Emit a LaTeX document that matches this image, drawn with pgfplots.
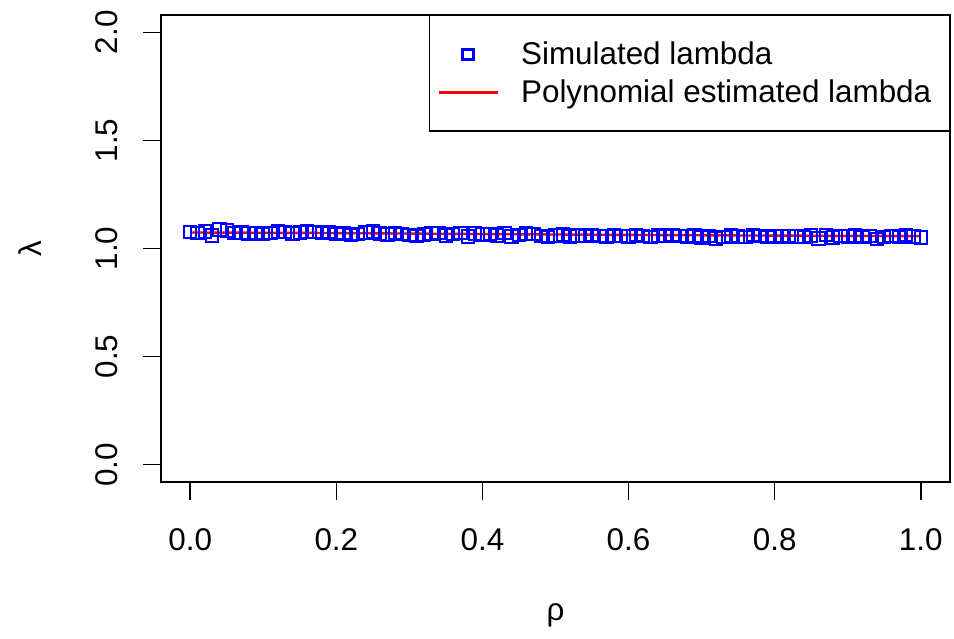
\documentclass[border=0pt]{standalone}
\usepackage{fontspec}
\setmainfont{Liberation Sans}
\usepackage{pgfplots}
\pgfplotsset{compat=1.18}

\pgfplotstableread{
rho lambda
0.00 1.075
0.01 1.072
0.02 1.078
0.03 1.060
0.04 1.088
0.05 1.083
0.06 1.071
0.07 1.074
0.08 1.070
0.09 1.072
0.10 1.068
0.11 1.073
0.12 1.078
0.13 1.075
0.14 1.069
0.15 1.074
0.16 1.079
0.17 1.076
0.18 1.073
0.19 1.077
0.20 1.068
0.21 1.071
0.22 1.062
0.23 1.066
0.24 1.074
0.25 1.079
0.26 1.070
0.27 1.064
0.28 1.072
0.29 1.067
0.30 1.063
0.31 1.058
0.32 1.065
0.33 1.069
0.34 1.072
0.35 1.060
0.36 1.067
0.37 1.073
0.38 1.055
0.39 1.070
0.40 1.064
0.41 1.068
0.42 1.061
0.43 1.072
0.44 1.056
0.45 1.063
0.46 1.070
0.47 1.066
0.48 1.059
0.49 1.053
0.50 1.061
0.51 1.064
0.52 1.055
0.53 1.060
0.54 1.057
0.55 1.062
0.56 1.058
0.57 1.055
0.58 1.061
0.59 1.059
0.60 1.056
0.61 1.062
0.62 1.058
0.63 1.054
0.64 1.060
0.65 1.057
0.66 1.062
0.67 1.058
0.68 1.055
0.69 1.061
0.70 1.050
0.71 1.057
0.72 1.046
0.73 1.053
0.74 1.060
0.75 1.056
0.76 1.052
0.77 1.062
0.78 1.058
0.79 1.054
0.80 1.057
0.81 1.055
0.82 1.059
0.83 1.056
0.84 1.053
0.85 1.060
0.86 1.047
0.87 1.063
0.88 1.050
0.89 1.058
0.90 1.055
0.91 1.061
0.92 1.052
0.93 1.057
0.94 1.045
0.95 1.053
0.96 1.058
0.97 1.054
0.98 1.062
0.99 1.056
1.00 1.050
}\simdata

\begin{document}
\begin{tikzpicture}
\begin{axis}[
  name=ax,
  scale only axis,
  width=394.5pt, height=233.5pt,
  xmin=-0.04, xmax=1.04,
  ymin=-0.08, ymax=2.08,
  xtick={0,0.2,...,1.0},
  ytick={0,0.5,...,2.0},
  tick pos=left,
  tick align=outside,
  major tick length=9pt,
  every tick/.style={black, line width=0.75pt},
  axis line style={black, line width=0.75pt},
  font=\fontsize{15.7}{18}\selectfont,
  /pgf/number format/assume math mode=true,
  /pgf/number format/.cd, fixed, fixed zerofill, precision=1, /pgfplots/.cd,
  xticklabel style={anchor=north, inner sep=0pt, yshift=-14pt},
  yticklabel style={rotate=90, anchor=south, inner sep=0pt, yshift=12.5pt},
  xlabel={ρ},
  ylabel={λ},
  xlabel style={at={(axis description cs:0.5,0)}, anchor=center, yshift=-66.5pt},
  ylabel style={at={(axis description cs:0,0.5)}, anchor=center, yshift=65.5pt},
  legend cell align=left,
  legend style={at={(1,1)}, anchor=north east, draw=black, line width=0.75pt,
    font=\fontsize{15.7}{18}\selectfont, inner xsep=4pt, inner ysep=11pt,
    row sep=2pt,
    nodes={inner xsep=5pt},
    /tikz/every odd column/.append style={column sep=6pt}},
]
\addplot[only marks, mark=square, mark size=3.1pt, color=blue, line width=1pt,
  legend image code/.code={\draw[blue, line width=1.4pt] (12pt,-2.6pt) rectangle (17.5pt,2.6pt);}]
  table[x=rho, y=lambda] {\simdata};
\addlegendentry{Simulated lambda}
\addplot[red, line width=1.2pt, no marks,
  legend image code/.code={\draw[red, line width=1.3pt] (0pt,0pt) -- (29.5pt,0pt);}]
  coordinates {(0,1.074) (0.17,1.072) (0.43,1.066) (0.7,1.061) (1,1.057)};
\addlegendentry{Polynomial estimated lambda}
\end{axis}
\useasboundingbox ([shift={(-80.5pt,-78.5pt)}]ax.south west) rectangle ([shift={(2pt,7.5pt)}]ax.north east);
\end{tikzpicture}
\end{document}
